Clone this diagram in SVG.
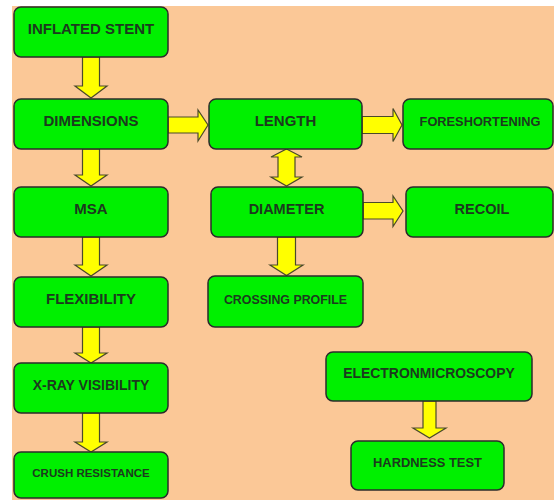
<svg xmlns="http://www.w3.org/2000/svg" width="554" height="500" viewBox="0 0 554 500">
<style>
.box{fill:#00f000;stroke:#2b2b2b;stroke-width:1.5}
.t{font-family:"Liberation Sans",Arial,sans-serif;font-weight:bold;fill:#1c3a1e;text-anchor:middle}
.arr{fill:#ffff00;stroke:#4a4a2a;stroke-width:1.2;stroke-linejoin:miter}
</style>
<rect x="0" y="0" width="554" height="500" fill="#ffffff"/>
<rect x="12" y="6" width="542" height="494" fill="#fbc897"/>
<g id="connectors">
<polygon class="arr" points="82.5,57 99.5,57 99.5,86 107,86 91,98 75,86 82.5,86"/>
<polygon class="arr" points="82.5,149 99.5,149 99.5,175 107,175 91,186 75,175 82.5,175"/>
<polygon class="arr" points="82.5,237 99.5,237 99.5,265 107,265 91,276 75,265 82.5,265"/>
<polygon class="arr" points="82.5,327 99.5,327 99.5,353 107,353 91,363 75,353 82.5,353"/>
<polygon class="arr" points="82.5,413 99.5,413 99.5,442 107,442 91,452 75,442 82.5,442"/>
<polygon class="arr" points="168,117 198,117 198,110 208,125 198,141 198,133 168,133"/>
<polygon class="arr" points="362,116.5 393,116.5 393,108.5 402,125 393,141.5 393,133.5 362,133.5"/>
<polygon class="arr" points="363,202.5 393,202.5 393,196 403,211 393,226.5 393,219 363,219"/>
<polygon class="arr" points="286.5,149 302,157 295,157 295,177 302,177 286.5,186 271,177 278,177 278,157 271,157"/>
<polygon class="arr" points="277.5,237 295.5,237 295.5,265 303,265 286.5,275.5 270,265 277.5,265"/>
<polygon class="arr" points="423,401 436,401 436,428 446,428 429.5,438 413,428 423,428"/>
</g>
<g id="inflated-stent"><rect class="box" x="14" y="7" width="154" height="50" rx="7"/><text class="t" x="91" y="34" font-size="15">INFLATED STENT</text></g>
<g id="dimensions"><rect class="box" x="14" y="99" width="154" height="50" rx="7"/><text class="t" x="91" y="126" font-size="15">DIMENSIONS</text></g>
<g id="msa"><rect class="box" x="14" y="187" width="154" height="50" rx="7"/><text class="t" x="91" y="214" font-size="15">MSA</text></g>
<g id="flexibility"><rect class="box" x="14" y="277" width="154" height="50" rx="7"/><text class="t" x="91" y="304" font-size="15">FLEXIBILITY</text></g>
<g id="xray"><rect class="box" x="14" y="363" width="154" height="50" rx="7"/><text class="t" x="91" y="390" font-size="14">X-RAY VISIBILITY</text></g>
<g id="crush"><rect class="box" x="14" y="452" width="154" height="46" rx="7"/><text class="t" x="91" y="477" font-size="11.5">CRUSH RESISTANCE</text></g>
<g id="length"><rect class="box" x="209" y="99" width="153" height="50" rx="7"/><text class="t" x="285.5" y="126" font-size="15">LENGTH</text></g>
<g id="foreshortening"><rect class="box" x="403" y="99" width="150" height="50" rx="7"/><text class="t" x="480" y="126" font-size="12.8">FORESHORTENING</text></g>
<g id="diameter"><rect class="box" x="211" y="187" width="152" height="50" rx="7"/><text class="t" x="286.5" y="214" font-size="14.5">DIAMETER</text></g>
<g id="recoil"><rect class="box" x="406" y="187" width="147" height="50" rx="7"/><text class="t" x="482" y="214" font-size="14.5">RECOIL</text></g>
<g id="crossing-profile"><rect class="box" x="208" y="276" width="155" height="51" rx="7"/><text class="t" x="285.5" y="304" font-size="12.4">CROSSING PROFILE</text></g>
<g id="electronmicroscopy"><rect class="box" x="326" y="352" width="206" height="49" rx="7"/><text class="t" x="429" y="378" font-size="13.9">ELECTRONMICROSCOPY</text></g>
<g id="hardness-test"><rect class="box" x="351" y="441" width="153" height="49" rx="7"/><text class="t" x="427.5" y="467" font-size="12.9">HARDNESS TEST</text></g>
</svg>
